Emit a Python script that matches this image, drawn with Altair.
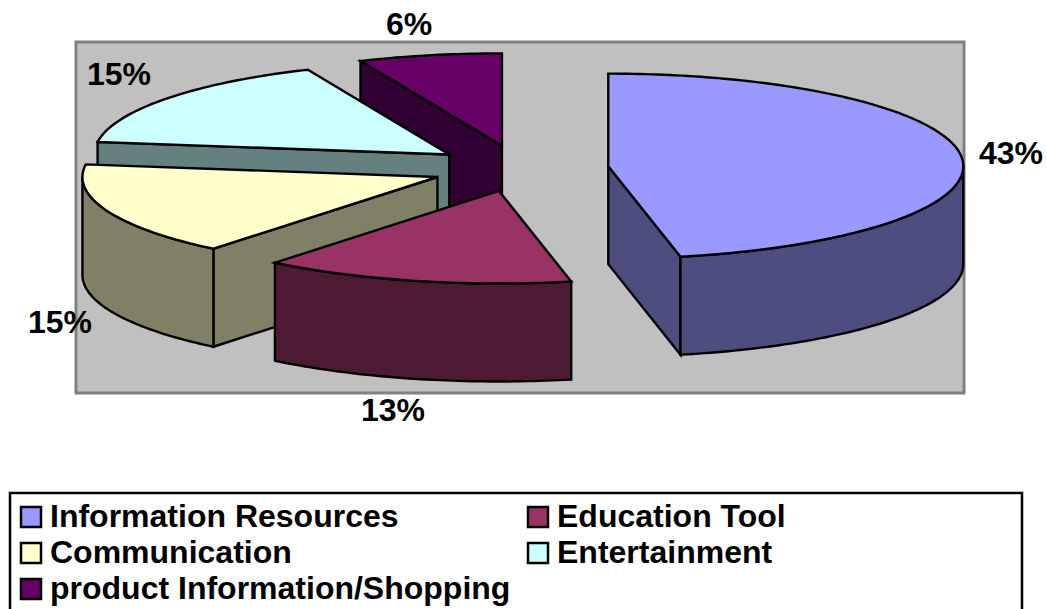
import math
import altair as alt

# Survey answers and their printed percentages
categories = [
    "Information Resources",
    "Education Tool",
    "Communication",
    "Entertainment",
    "product Information/Shopping",
]
percents = [43, 13, 15, 15, 6]
top_colors = ["#9999FF", "#993366", "#FFFFCC", "#CCFFFF", "#660066"]
side_colors = ["#4D4D80", "#4D1933", "#808066", "#668080", "#330033"]

# Pie geometry in chart pixels: centre, radii of the tilted disc, thickness, explosion
CX, CY = 520.0, 168.5
RX, RY = 355.0, 92.5
DEPTH = 98.0
EXPLODE = 0.25

FONT = "Liberation Sans"
LABEL_SIZE = 32

# Label anchors in reading order of the slices
label_x = [1011, 393, 60, 119, 409]
label_y = [154, 411, 323, 75, 25]


def rim(center, angle):
    return [center[0] + RX * math.sin(angle), center[1] - RY * math.cos(angle)]


def drop(point):
    return [point[0], point[1] + DEPTH]


def arc(center, a, b):
    steps = max(2, int(abs(b - a) / math.radians(1)))
    return [rim(center, a + (b - a) * i / steps) for i in range(steps + 1)]


def feature(points, face):
    ring = points + [points[0]]
    return {
        "type": "Feature",
        "geometry": {"type": "Polygon", "coordinates": [ring]},
        "properties": {"face": face},
    }


total = sum(percents)
features = []
starts = []
running = 0.0
for value in percents:
    starts.append(running)
    running += value / total * 2 * math.pi

# Slices are painted back to front so nearer ones cover the farther ones
for i in [4, 3, 2, 1, 0]:
    a = starts[i]
    b = a + percents[i] / total * 2 * math.pi
    mid = (a + b) / 2
    apex = [CX + EXPLODE * RX * math.sin(mid), CY - EXPLODE * RY * math.cos(mid)]
    shade = categories[i] + " side"

    # Cut faces that turn towards the viewer
    if math.sin(a) < -1e-6:
        p = rim(apex, a)
        features.append(feature([apex, p, drop(p), drop(apex)], shade))
    if math.sin(b) > 1e-6:
        p = rim(apex, b)
        features.append(feature([apex, p, drop(p), drop(apex)], shade))

    # Outer wall: only the near half of the rim can be seen
    lo, hi = max(a, math.pi / 2), min(b, 3 * math.pi / 2)
    if lo < hi:
        edge = arc(apex, lo, hi)
        features.append(feature(edge + [drop(q) for q in reversed(edge)], shade))

    # Top face
    features.append(feature([apex] + arc(apex, a, b), categories[i]))

domain = categories + [c + " side" for c in categories]
colors = top_colors + side_colors

plot_area = alt.Data(values=[feature([[76, 42], [964, 42], [964, 393], [76, 393]], "area")])
legend_box = alt.Data(values=[feature([[10, 493], [1022, 493], [1022, 640], [10, 640]], "box")])
identity = dict(type="identity", scale=1, translate=[0, 0])

background = (
    alt.Chart(plot_area)
    .mark_geoshape(fill="#C0C0C0", stroke="#808080", strokeWidth=3)
    .project(**identity)
)
frame = (
    alt.Chart(legend_box)
    .mark_geoshape(fill="#FFFFFF", stroke="#000000", strokeWidth=2.5, clip=True)
    .project(**identity)
)
slices = (
    alt.Chart(alt.Data(values=features))
    .mark_geoshape(stroke="#000000", strokeWidth=2.4, strokeJoin="miter")
    .encode(
        fill=alt.Fill(
            "properties.face:N",
            scale=alt.Scale(domain=domain, range=colors),
            legend=alt.Legend(
                title=None,
                values=categories,
                orient="none",
                direction="horizontal",
                legendX=15,
                legendY=501,
                columns=2,
                columnPadding=11,
                rowPadding=4,
                symbolType="square",
                symbolSize=400,
                symbolStrokeColor="#000000",
                symbolStrokeWidth=2.5,
                symbolOpacity=1,
                labelFont=FONT,
                labelFontSize=LABEL_SIZE,
                labelFontWeight="bold",
                labelColor="#000000",
                labelOffset=3,
                labelLimit=600,
                padding=0,
            ),
        )
    )
    .project(**identity)
)
labels = (
    alt.Chart(
        alt.Data(
            values=[
                {"text": f"{p}%", "x": x, "y": y}
                for p, x, y in zip(percents, label_x, label_y)
            ]
        )
    )
    .mark_text(font=FONT, fontSize=LABEL_SIZE, fontWeight="bold", color="#000000", align="center", baseline="middle")
    .encode(
        x=alt.X("x:Q", scale=None, axis=None),
        y=alt.Y("y:Q", scale=None, axis=None),
        text="text:N",
    )
)

chart = (
    alt.layer(background, frame, slices, labels)
    .properties(width=1047, height=609, autosize=alt.AutoSizeParams(type="none"), padding=0, background="#FFFFFF")
    .configure_view(stroke=None)
)

chart.save("out.html", embed_options={"renderer": "svg", "actions": False})
